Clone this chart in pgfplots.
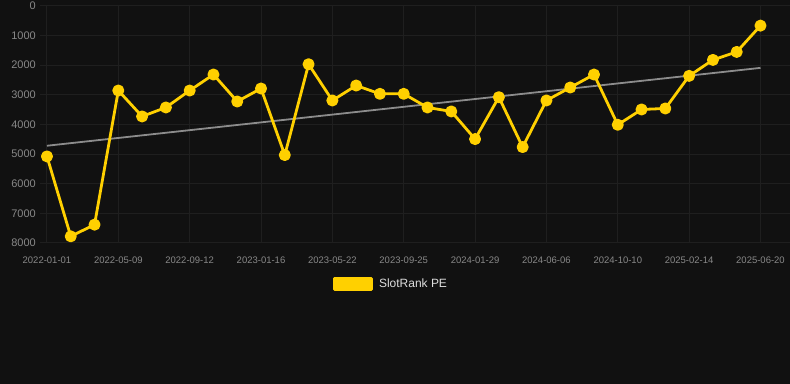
\documentclass[border=0pt]{standalone}
\usepackage{fontspec}
\setmainfont{Liberation Sans}
\usepackage{pgfplots}
\pgfplotsset{compat=1.18}
\definecolor{bg}{HTML}{111111}
\definecolor{gridc}{HTML}{1F1F1F}
\definecolor{tickc}{HTML}{888888}
\definecolor{trendc}{HTML}{8C8C8C}
\definecolor{ylw}{RGB}{255,208,0}
\definecolor{legtext}{HTML}{DDDDDD}
\begin{document}
\begin{tikzpicture}
\fill[bg] (0,0) rectangle (790pt,384pt);
\begin{axis}[
  at={(40pt,141pt)}, anchor=south west,
  scale only axis, width=750pt, height=237pt,
  xmin=-0.294, xmax=31.22,
  ymin=0, ymax=8000, y dir=reverse,
  axis line style={draw=none},
  tick style={draw=none},
  grid=major,
  major grid style={draw=gridc, line width=1pt},
  xtick={0,3,...,30},
  xticklabels={2022-01-01,2022-05-09,2022-09-12,2023-01-16,2023-05-22,2023-09-25,2024-01-29,2024-06-06,2024-10-10,2025-02-14,2025-06-20},
  ytick={0,1000,...,8000},
  /pgf/number format/assume math mode=true,
  /pgf/number format/1000 sep={},
  yticklabel style={font=\fontsize{11}{11}\selectfont, text=tickc, inner sep=0pt, anchor=east, xshift=-4pt},
  xticklabel style={font=\fontsize{9.5}{9.5}\selectfont, text=tickc, inner sep=0pt, anchor=base, yshift=-20.5pt},
  legend style={at={(0.4685,-0.173)}, anchor=center, draw=none, fill=none, text=legtext, font=\fontsize{12}{12}\selectfont, inner sep=0pt,
    /tikz/every odd column/.append style={column sep=4pt}},
  legend image code/.code={\fill[ylw] (0pt,-5.5pt) rectangle (37pt,5.5pt);},
  clip=false,
]
\addplot[trendc, line width=1.8pt, forget plot] coordinates {(0,4720) (30,2090)};
\addplot[ylw, line width=2.8pt, line join=round, mark=*, mark size=4.6pt, mark options={fill=ylw, draw=none}] coordinates {
(0,5080) (1,7780) (2,7385) (3,2855) (4,3730) (5,3427) (6,2855) (7,2315) (8,3225) (9,2787)
(10,5035) (11,1967) (12,3191) (13,2686) (14,2967) (15,2967) (16,3427) (17,3562) (18,4495) (19,3079)
(20,4765) (21,3191) (22,2753) (23,2315) (24,4012) (25,3495) (26,3461) (27,2360) (28,1821) (29,1551)
(30,663)};
\addlegendentry{SlotRank PE}
\end{axis}
\end{tikzpicture}
\end{document}
